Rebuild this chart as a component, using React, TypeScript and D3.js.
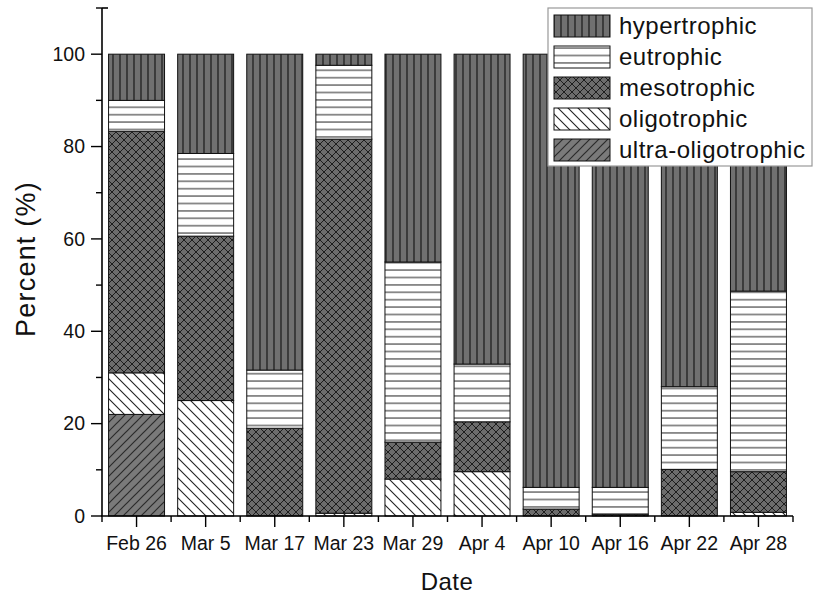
import React from "react";
import * as d3 from "d3";

const dates = ["Feb 26", "Mar 5", "Mar 17", "Mar 23", "Mar 29", "Apr 4", "Apr 10", "Apr 16", "Apr 22", "Apr 28"];
const ultraOligotrophic = [22, 0, 0, 0, 0, 0, 0, 0, 0, 0];
const oligotrophic = [9, 25, 0, 0.6, 8, 9.6, 0, 0, 0, 0.8];
const mesotrophic = [52.3, 35.6, 19, 81, 8, 10.8, 1.5, 0.4, 10.1, 8.8];
const eutrophic = [6.7, 17.9, 12.6, 16, 39, 12.5, 4.7, 5.8, 17.9, 39.1];
const hypertrophic = [10, 21.5, 68.4, 2.4, 45, 67.1, 93.8, 93.8, 72, 51.3];
const yTicks = [0, 20, 40, 60, 80, 100];
const yMinorTicks = [10, 30, 50, 70, 90, 110];

const keys = ["ultra", "oligo", "meso", "eutro", "hyper"];
const legendItems = [
  { key: "hyper", label: "hypertrophic" },
  { key: "eutro", label: "eutrophic" },
  { key: "meso", label: "mesotrophic" },
  { key: "oligo", label: "oligotrophic" },
  { key: "ultra", label: "ultra-oligotrophic" },
];

const rows = dates.map((d, i) => ({
  date: d,
  ultra: ultraOligotrophic[i],
  oligo: oligotrophic[i],
  meso: mesotrophic[i],
  eutro: eutrophic[i],
  hyper: hypertrophic[i],
}));

const FONT = "'Liberation Sans', Arial, sans-serif";

export default function App() {
  const W = 816, H = 594;
  const x = d3.scaleBand<string>().domain(dates).range([102, 793]).paddingInner(0.19).paddingOuter(0.095);
  const y = d3.scaleLinear().domain([0, 110]).range([516, 8]);
  const stack = d3.stack<any>().keys(keys);
  const series = stack(rows as any);
  const step = x.step();

  return (
    <svg width={W} height={H} style={{ position: "absolute", left: 0, top: 0, background: "#fff" }}>
      <defs>
        <pattern id="p-hyper" patternUnits="userSpaceOnUse" width={7} height={7}>
          <rect width={7} height={7} fill="#707070" />
          <line x1={1} y1={0} x2={1} y2={7} stroke="#2e2e2e" strokeWidth={1.6} />
        </pattern>
        <pattern id="p-eutro" patternUnits="userSpaceOnUse" width={7} height={7.4}>
          <rect width={7} height={7.4} fill="#fff" />
          <line x1={0} y1={3.7} x2={7} y2={3.7} stroke="#555" strokeWidth={1.3} />
        </pattern>
        <pattern id="p-meso" patternUnits="userSpaceOnUse" width={8} height={8}>
          <rect width={8} height={8} fill="#6c6c6c" />
          <path d="M0,0L8,8M8,0L0,8M-1,7L1,9M7,-1L9,1M-1,1L1,-1M7,9L9,7" stroke="#1e1e1e" strokeWidth={1} />
        </pattern>
        <pattern id="p-oligo" patternUnits="userSpaceOnUse" width={10} height={10}>
          <rect width={10} height={10} fill="#fff" />
          <path d="M0,0L10,10M-1,9L1,11M9,-1L11,1" stroke="#222" strokeWidth={1.1} />
        </pattern>
        <pattern id="p-ultra" patternUnits="userSpaceOnUse" width={9} height={9}>
          <rect width={9} height={9} fill="#7a7a7a" />
          <path d="M0,9L9,0M-1,1L1,-1M8,10L10,8" stroke="#2a2a2a" strokeWidth={1.2} />
        </pattern>
      </defs>

      {series.map((s) => (
        <g key={s.key}>
          {s.map((d: any, i: number) => {
            const h = y(d[0]) - y(d[1]);
            if (h <= 0) return null;
            return (
              <rect
                key={i}
                x={x(dates[i])}
                y={y(d[1])}
                width={x.bandwidth()}
                height={h}
                fill={`url(#p-${s.key})`}
                stroke="#111"
                strokeWidth={1}
              />
            );
          })}
        </g>
      ))}

      {/* Y axis */}
      <line x1={102} y1={8} x2={102} y2={516} stroke="#000" strokeWidth={1.6} />
      <line x1={102} y1={8} x2={108} y2={8} stroke="#000" strokeWidth={1.6} />
      {yTicks.map((t) => (
        <g key={t}>
          <line x1={91} x2={102} y1={y(t)} y2={y(t)} stroke="#000" strokeWidth={1.4} />
          <text x={85} y={y(t)} dy="0.35em" textAnchor="end" fontFamily={FONT} fontSize={19.5} fill="#111">
            {t}
          </text>
        </g>
      ))}
      {yMinorTicks.map((t) => (
        <line key={t} x1={96} x2={102} y1={y(t)} y2={y(t)} stroke="#000" strokeWidth={1.4} />
      ))}

      {/* X axis */}
      <line x1={101} y1={516} x2={793} y2={516} stroke="#000" strokeWidth={1.6} />
      {dates.map((d) => (
        <g key={d}>
          <line x1={x(d)! + x.bandwidth() / 2} x2={x(d)! + x.bandwidth() / 2} y1={516} y2={527} stroke="#000" strokeWidth={1.4} />
          <text x={x(d)! + x.bandwidth() / 2} y={550} textAnchor="middle" fontFamily={FONT} fontSize={19.5} fill="#111">
            {d}
          </text>
        </g>
      ))}
      {d3.range(dates.length + 1).map((i) => (
        <line key={i} x1={102 + i * step} x2={102 + i * step} y1={516} y2={522} stroke="#000" strokeWidth={1.4} />
      ))}

      <text x={447} y={590} textAnchor="middle" fontFamily={FONT} fontSize={24} letterSpacing={0.5} fill="#111">
        Date
      </text>
      <text transform="translate(35,259) rotate(-90)" textAnchor="middle" fontFamily={FONT} fontSize={27} letterSpacing={1.2} fill="#111">
        Percent (%)
      </text>

      {/* Legend */}
      <rect x={548} y={8} width={264} height={158} fill="#fff" stroke="#999" strokeWidth={1.2} />
      {legendItems.map((it, i) => (
        <g key={it.key}>
          <rect x={554} y={15 + 31 * i} width={56} height={22} fill={`url(#p-${it.key})`} stroke="#111" strokeWidth={1} />
          <text x={619} y={33.5 + 31 * i} fontFamily={FONT} fontSize={24} letterSpacing={0.5} fill="#111">
            {it.label}
          </text>
        </g>
      ))}
    </svg>
  );
}
